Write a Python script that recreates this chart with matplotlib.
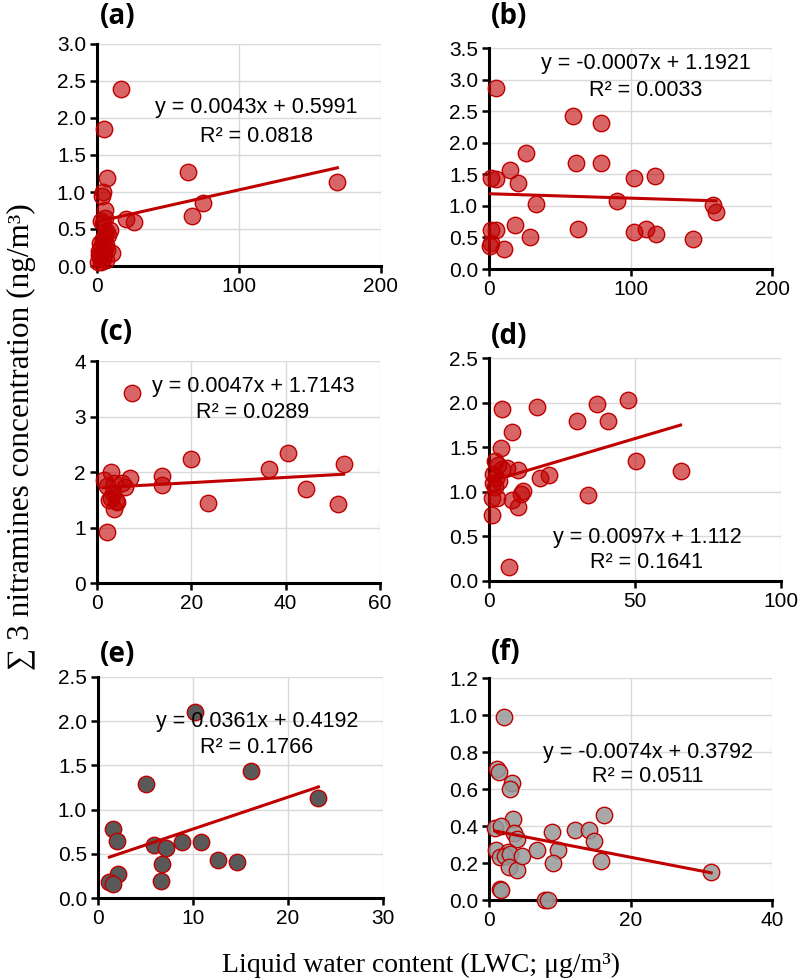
import matplotlib.pyplot as plt
import numpy as np

plt.rcParams['font.family'] = ['Liberation Sans', 'DejaVu Sans']

# panel (a)
xa = [17.1, 5.2, 7.0, 4.5, 3.5, 5.4, 64.4, 67.0, 74.5, 169.3, 20.5, 25.8, 2.8, 4.5, 5.5,
      9.4, 6.0, 8.0, 2.3, 4.0, 6.5, 10.5, 1.5, 3.0, 5.0, 7.0, 2.0, 4.0, 1.0, 3.0, 6.0, 5.5, 1.2]
ya = [2.39, 1.85, 1.19, 1.00, 0.94, 0.76, 1.27, 0.68, 0.85, 1.14, 0.63, 0.59, 0.61, 0.58, 0.65,
      0.49, 0.47, 0.42, 0.31, 0.36, 0.28, 0.17, 0.20, 0.25, 0.20, 0.22, 0.12, 0.10, 0.05, 0.05, 0.08, 0.40, 0.15]
# panel (b)
xb = [5.2, 59.3, 79.3, 25.9, 61.6, 79.3, 15.0, 20.5, 1.6, 5.2, 102.8, 117.6, 33.4, 90.4, 158.6,
      160.5, 1.6, 5.2, 18.1, 62.8, 29.2, 102.8, 111.0, 118.0, 144.0, 10.6, 1.0, 1.5]
yb = [2.87, 2.42, 2.32, 1.83, 1.68, 1.68, 1.56, 1.36, 1.44, 1.43, 1.44, 1.47, 1.03, 1.08, 1.02,
      0.90, 0.61, 0.61, 0.69, 0.63, 0.51, 0.58, 0.63, 0.55, 0.48, 0.32, 0.37, 0.41]
# panel (c)
xc = [7.4, 2.1, 19.9, 23.6, 36.4, 40.4, 44.4, 51.1, 52.3, 13.8, 13.7, 7.1, 2.9, 1.5, 3.5, 5.2,
      6.0, 3.3, 3.0, 4.2, 3.5, 2.5, 4.0, 2.2]
yc = [3.43, 0.92, 2.23, 1.45, 2.06, 2.35, 1.69, 1.42, 2.14, 1.92, 1.76, 1.89, 2.00, 1.86, 1.80, 1.80,
      1.73, 1.62, 1.53, 1.46, 1.33, 1.50, 1.48, 1.75]
# panel (d)
xd = [4.3, 16.3, 30.3, 36.9, 40.6, 47.5, 8.0, 4.0, 50.2, 65.6, 20.5, 17.5, 10.0, 33.8, 11.8, 10.8,
      7.8, 10.0, 0.9, 2.6, 0.9, 7.0, 2.1, 3.2, 6.0, 1.5, 2.5, 1.2, 3.5, 4.5, 2.0]
yd = [1.93, 1.95, 1.79, 1.98, 1.79, 2.03, 1.67, 1.49, 1.34, 1.23, 1.19, 1.15, 1.24, 0.96, 1.01, 0.97,
      0.91, 0.83, 0.93, 0.93, 0.74, 0.16, 1.34, 1.30, 1.27, 1.20, 1.15, 1.10, 1.12, 1.25, 1.05]
# panel (e)
xe = [10.2, 5.1, 16.1, 23.2, 1.6, 2.0, 5.9, 7.2, 8.8, 10.8, 12.6, 14.6, 6.7, 6.6, 2.1, 1.2, 1.6]
ye = [2.10, 1.29, 1.44, 1.13, 0.78, 0.65, 0.60, 0.57, 0.63, 0.63, 0.43, 0.41, 0.39, 0.19, 0.27, 0.18, 0.16]
# panel (f)
xf = [2.1, 16.3, 31.4, 1.2, 1.4, 3.2, 2.9, 3.4, 8.9, 12.1, 14.1, 14.9, 15.9, 0.8, 1.7, 3.6, 4.0,
      1.0, 1.5, 2.7, 2.2, 3.0, 2.8, 4.0, 4.7, 6.8, 9.7, 9.1, 1.5, 1.7, 7.9, 8.3]
yf = [0.99, 0.46, 0.15, 0.71, 0.69, 0.63, 0.60, 0.44, 0.37, 0.38, 0.38, 0.32, 0.21, 0.39, 0.40, 0.36, 0.33,
      0.27, 0.23, 0.26, 0.24, 0.25, 0.18, 0.16, 0.24, 0.27, 0.27, 0.20, 0.06, 0.055, 0.0, 0.0]

labels = ['(a)', '(b)', '(c)', '(d)', '(e)', '(f)']
slopes = [0.0043, -0.0007, 0.0047, 0.0097, 0.0361, -0.0074]
intercepts = [0.5991, 1.1921, 1.7143, 1.112, 0.4192, 0.3792]
eq_texts = ['y = 0.0043x + 0.5991', 'y = -0.0007x + 1.1921', 'y = 0.0047x + 1.7143',
            'y = 0.0097x + 1.112', 'y = 0.0361x + 0.4192', 'y = -0.0074x + 0.3792']
r2_texts = ['R² = 0.0818', 'R² = 0.0033', 'R² = 0.0289', 'R² = 0.1641', 'R² = 0.1766', 'R² = 0.0511']
xticks = [[0, 100, 200], [0, 100, 200], [0, 20, 40, 60], [0, 50, 100], [0, 10, 20, 30], [0, 20, 40]]
yticks = [np.arange(0, 3.01, 0.5), np.arange(0, 3.51, 0.5), [0, 1, 2, 3, 4],
          np.arange(0, 2.51, 0.5), np.arange(0, 2.51, 0.5), np.arange(0, 1.21, 0.2)]
yfmt = ['%.1f', '%.1f', '%d', '%.1f', '%.1f', '%.1f']

xs = [xa, xb, xc, xd, xe, xf]
ys = [ya, yb, yc, yd, ye, yf]

red_fill = (0.75, 0.0, 0.0, 0.6)
faces = [red_fill, red_fill, red_fill, red_fill, '#595959', (0.6, 0.6, 0.6, 0.85)]

# axes boxes in pixels: left, right, top, bottom
boxes = [(97, 381, 44, 266), (489, 772, 48, 269),
         (97, 380, 361, 583), (489, 781, 358, 581),
         (98, 383, 677, 898), (489, 772, 678, 900)]
# equation text centres in pixels
eq_pos = [(256, 108, 136), (646, 63, 90), (253, 386, 412),
          (647, 537, 562), (257, 722, 747), (648, 752, 776)]
lab_pos = [(100, 17), (491, 17), (100, 333), (491, 336), (100, 654), (491, 653)]

W, H = 800, 980
fig = plt.figure(figsize=(8, 9.8), dpi=100)

for i in range(6):
    l, r, t, b = boxes[i]
    ax = fig.add_axes([l / W, 1 - b / H, (r - l) / W, (b - t) / H])
    ax.scatter(xs[i], ys[i], s=140, facecolor=faces[i], edgecolor='#c00000',
               linewidth=1.0, zorder=3, clip_on=False)
    xx = np.array([min(xs[i]), max(xs[i])])
    ax.plot(xx, slopes[i] * xx + intercepts[i], color='#c00000', lw=2.2, zorder=4)
    ax.set_xlim(xticks[i][0], xticks[i][-1])
    ax.set_ylim(yticks[i][0], yticks[i][-1])
    ax.set_xticks(xticks[i])
    ax.set_yticks(yticks[i])
    ax.set_yticklabels([yfmt[i] % v for v in yticks[i]])
    ax.grid(True, color='#d9d9d9', lw=1.0, zorder=0)
    ax.set_axisbelow(True)
    for s in ['top', 'right']:
        ax.spines[s].set_visible(False)
    for s in ['left', 'bottom']:
        ax.spines[s].set_linewidth(2.2)
    ax.tick_params(direction='out', length=5, width=1.8, labelsize=15, pad=3, colors='black')

    ex, ey1, ey2 = eq_pos[i]
    fig.text(ex / W, 1 - ey1 / H, eq_texts[i], ha='center', va='center', fontsize=15.5)
    fig.text(ex / W, 1 - ey2 / H, r2_texts[i], ha='center', va='center', fontsize=15.5)
    lx, ly = lab_pos[i]
    fig.text(lx / W, 1 - ly / H, labels[i], ha='left', va='center', fontsize=20,
             fontweight='bold', family=['Open Sans', 'DejaVu Sans'])

serif = ['Liberation Serif', 'DejaVu Serif']
fig.text(21 / W, 1 - 437 / H, '∑ 3 nitramines concentration (ng/m³)', rotation=90,
         ha='center', va='center', fontsize=22.5, family=serif)
fig.text(421 / W, 1 - 965 / H, 'Liquid water content (LWC; μg/m³)',
         ha='center', va='center', fontsize=20, family=serif)

fig.savefig('out.png', dpi=100)
